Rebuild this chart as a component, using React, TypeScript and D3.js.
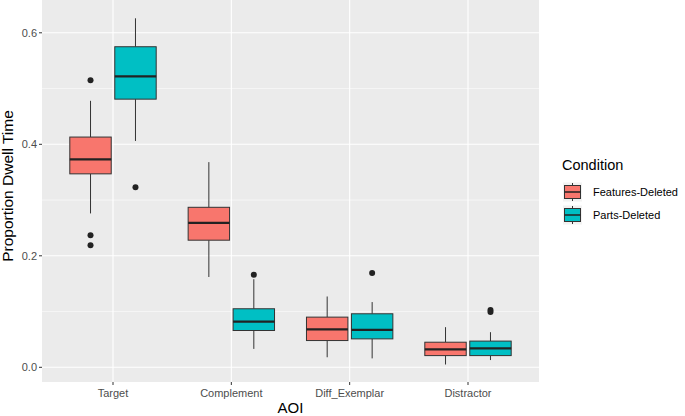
import React from 'react';
import * as d3 from 'd3';

// AOI categories and conditions
const categories = ['Target', 'Complement', 'Diff_Exemplar', 'Distractor'];
const conditions = ['Features-Deleted', 'Parts-Deleted'];
const colors = ['#F8766D', '#00BFC4'];

// five-number summaries: [whiskerLow, q1, median, q3, whiskerHigh]
const featuresStats = [
  [0.276, 0.347, 0.373, 0.413, 0.478],
  [0.162, 0.228, 0.259, 0.287, 0.368],
  [0.018, 0.048, 0.068, 0.090, 0.127],
  [0.005, 0.021, 0.032, 0.045, 0.072],
];
const partsStats = [
  [0.406, 0.481, 0.522, 0.575, 0.626],
  [0.033, 0.066, 0.082, 0.105, 0.158],
  [0.016, 0.051, 0.067, 0.096, 0.117],
  [0.013, 0.021, 0.034, 0.047, 0.063],
];
const featuresOutliers = [[0.515, 0.237, 0.219], [], [], []];
const partsOutliers = [[0.323], [0.166], [0.169], [0.103, 0.099]];

const yTicks = [0, 0.2, 0.4, 0.6];
const yMinor = [0.1, 0.3, 0.5];

const W = 685;
const H = 416;
const panel = { left: 42, top: 0, right: 539, bottom: 382 };
const font = '"Liberation Sans", Arial, Helvetica, sans-serif';

export default function App() {
  const x = d3.scalePoint<string>()
    .domain(categories)
    .range([panel.left, panel.right])
    .padding(0.6);
  const step = x.step();
  const y = d3.scaleLinear().domain([0, 0.6]).range([367.3, 32.8]);

  const boxW = step * 0.35;
  const offset = step * 0.19;
  const groups = [
    { stats: featuresStats, outliers: featuresOutliers, color: colors[0], dx: -offset },
    { stats: partsStats, outliers: partsOutliers, color: colors[1], dx: offset },
  ];

  return (
    <svg width={W} height={H} style={{ position: 'absolute', left: 0, top: 0, fontFamily: font }}>
      <rect x={0} y={0} width={W} height={H} fill="#fff" />
      <rect x={panel.left} y={panel.top} width={panel.right - panel.left} height={panel.bottom - panel.top} fill="#EBEBEB" />
      {yMinor.map(v => (
        <line key={'mn' + v} x1={panel.left} x2={panel.right} y1={y(v)} y2={y(v)} stroke="#fff" strokeWidth={0.55} />
      ))}
      {yTicks.map(v => (
        <line key={'mj' + v} x1={panel.left} x2={panel.right} y1={y(v)} y2={y(v)} stroke="#fff" strokeWidth={1.1} />
      ))}
      {categories.map(c => (
        <line key={'vx' + c} x1={x(c)} x2={x(c)} y1={panel.top} y2={panel.bottom} stroke="#fff" strokeWidth={1.1} />
      ))}

      {groups.map((g, gi) => categories.map((c, i) => {
        const [lo, q1, med, q3, hi] = g.stats[i];
        const cx = (x(c) as number) + g.dx;
        return (
          <g key={gi + c}>
            <line x1={cx} x2={cx} y1={y(hi)} y2={y(q3)} stroke="#333" strokeWidth={1} />
            <line x1={cx} x2={cx} y1={y(q1)} y2={y(lo)} stroke="#333" strokeWidth={1} />
            <rect x={cx - boxW / 2} y={y(q3)} width={boxW} height={y(q1) - y(q3)} fill={g.color} stroke="#333" strokeWidth={1} />
            <line x1={cx - boxW / 2} x2={cx + boxW / 2} y1={y(med)} y2={y(med)} stroke="#222" strokeWidth={2.3} />
            {g.outliers[i].map((o, k) => (
              <circle key={k} cx={cx} cy={y(o)} r={3} fill="#222" />
            ))}
          </g>
        );
      }))}

      {yTicks.map(v => (
        <g key={'yt' + v}>
          <line x1={panel.left - 3} x2={panel.left} y1={y(v)} y2={y(v)} stroke="#333" strokeWidth={1} />
          <text x={panel.left - 5} y={y(v)} dy="0.35em" textAnchor="end" fontSize={11} fill="#4D4D4D">{v.toFixed(1)}</text>
        </g>
      ))}
      {categories.map(c => (
        <g key={'xt' + c}>
          <line x1={x(c)} x2={x(c)} y1={panel.bottom} y2={panel.bottom + 3} stroke="#333" strokeWidth={1} />
          <text x={x(c)} y={panel.bottom + 15} textAnchor="middle" fontSize={11} fill="#4D4D4D">{c}</text>
        </g>
      ))}

      <text x={(panel.left + panel.right) / 2} y={413} textAnchor="middle" fontSize={15} fill="#000">AOI</text>
      <text transform={`translate(13,186) rotate(-90)`} textAnchor="middle" fontSize={15.5} fill="#000">Proportion Dwell Time</text>

      <g transform="translate(562,0)">
        <text x={0} y={170} fontSize={14.5} fill="#000">Condition</text>
        {conditions.map((cond, i) => {
          const ky = 182.5 + i * 23;
          const kx = 1;
          const k = 19;
          return (
            <g key={cond}>
              <rect x={kx} y={ky} width={k} height={k} fill="#F2F2F2" />
              <line x1={kx + k / 2} x2={kx + k / 2} y1={ky + 0.5} y2={ky + k - 0.5} stroke="#333" strokeWidth={1} />
              <rect x={kx + 1.5} y={ky + 3} width={k - 3} height={k - 6} fill={colors[i]} stroke="#333" strokeWidth={1} />
              <line x1={kx + 1.5} x2={kx + k - 1.5} y1={ky + k / 2} y2={ky + k / 2} stroke="#222" strokeWidth={1.5} />
              <text x={kx + k + 11} y={ky + k / 2} dy="0.35em" fontSize={11} fill="#000">{cond}</text>
            </g>
          );
        })}
      </g>
    </svg>
  );
}
